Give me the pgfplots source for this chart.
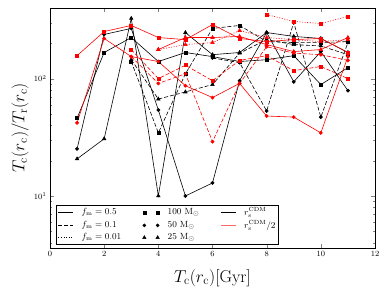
\documentclass[border=0pt]{standalone}
\usepackage{pgfplots}
\pgfplotsset{compat=1.18}
\pgfplotsset{
  fa/.style={solid, line width=0.6pt},
  fb/.style={dash pattern=on 4pt off 2pt, line width=0.6pt},
  fc/.style={dash pattern=on 1pt off 1.6pt, line width=0.6pt},
  sq/.style={mark=square*, mark size=1.5pt, mark options={solid}},
  ci/.style={mark=*, mark size=1.6pt, mark options={solid}},
  tr/.style={mark=triangle*, mark size=2pt, mark options={solid}},
  cb/.style={black},
  cr/.style={red, mark options={fill=red, solid}},
  twomarks/.style={only marks, legend image code/.code={\draw[##1] plot[only marks] coordinates {(0.05cm,0cm) (0.52cm,0cm)};}},
  shortline/.style={legend image code/.code={\draw[##1] (0cm,0cm) -- (0.52cm,0cm);}},
}
\begin{document}
\begin{tikzpicture}
\useasboundingbox (-50bp,-45bp) rectangle (340bp,248bp);
\begin{axis}[
  scale only axis, width=325bp, height=240bp,
  ymode=log, xmin=0, xmax=12, ymin=3.6, ymax=400,
  xtick={0,2,...,12},
  tick label style={font=\fontsize{8}{9}\selectfont},
  major tick length=4bp, minor tick length=2bp,
  xlabel={$T_{\mathrm{c}}(r_{\mathrm{c}})[\mathrm{Gyr}]$},
  ylabel={$T_{\mathrm{c}}(r_{\mathrm{c}})/T_{\mathrm{r}}(r_{\mathrm{c}})$},
  label style={font=\fontsize{17}{19}\selectfont},
  xlabel style={at={(axis description cs:0.5,-0.125)}, anchor=center},
  ylabel style={at={(axis description cs:-0.092,0.5)}, anchor=center},
  legend columns=3,
  legend cell align=left,
  legend style={at={(rel axis cs:0.018,0.017)}, anchor=south west,
    font=\fontsize{9}{10}\selectfont, draw=black, inner sep=2pt,
    nodes={inner sep=0.3pt},
    row sep=3pt,
    /tikz/every odd column/.append style={column sep=8bp},
    /tikz/every even column/.append style={column sep=21bp}},
]
% black solid
\addplot[cb,fa,sq,forget plot] coordinates {(1,46)(2,167)(3,224)(4,140)(5,167)(6,154)(7,140)(8,145)(9,157)(10,89)(11,124)};
\addplot[cb,fa,ci,forget plot] coordinates {(1,25.2)(2,238)(3,268)(4,54)(5,10)(6,12.9)(7,96)(8,247)(9,94)(10,170)(11,79)};
\addplot[cb,fa,tr,forget plot] coordinates {(1,20.7)(2,30.7)(3,326)(4,10)(5,247)(6,160)(7,167)(8,247)(9,229)(10,220)(11,167)};
% black dashed
\addplot[cb,fb,sq,forget plot] coordinates {(3,140)(4,34.5)(5,110)(6,268)(7,284)(8,207)(9,203)(10,203)(11,207)};
\addplot[cb,fb,tr,forget plot] coordinates {(3,145)(4,67)(5,77)(6,89)(7,165)(8,215)(9,195)(10,190)(11,160)};
\addplot[cb,fb,ci,forget plot] coordinates {(6,150)(7,137)(8,53)(9,301)(10,47)(11,203)};
% red solid
\addplot[cr,fa,sq,forget plot] coordinates {(1,157)(2,252)(3,284)(4,224)(5,215)(6,289)(7,220)(8,207)(9,215)(10,220)(11,167)};
\addplot[cr,fa,ci,forget plot] coordinates {(1,42)(2,220)(3,154)(4,140)(5,87)(6,69)(7,91)(8,48)(9,47)(10,34.5)(11,154)};
\addplot[cr,fa,tr,forget plot] coordinates {(4,177)(5,224)(6,224)(7,229)(8,195)(9,170)(10,177)(11,224)};
% red dashed
\addplot[cr,fb,sq,forget plot] coordinates {(3,177)(4,100)(5,130)(6,96)(7,143)(8,157)(9,117)(10,127)(11,100)};
\addplot[cr,fb,ci,forget plot] coordinates {(3,154)(4,91)(5,110)(6,29)(7,91)(8,187)(9,165)(10,160)(11,143)};
% red dotted
\addplot[cr,fc,sq,forget plot] coordinates {(8,352)(9,307)(10,295)(11,339)};
\addplot[cr,fc,tr,forget plot] coordinates {(4,177)(5,195)(6,203)(7,257)(8,224)(9,215)(10,207)(11,215)};
% legend
\addlegendimage{black,fa,shortline}
\addlegendentry{$f_{\mathrm{m}} = 0.5$}
\addlegendimage{black,sq,twomarks}
\addlegendentry{$100\ \mathrm{M}_\odot$}
\addlegendimage{black,fa,shortline}
\addlegendentry{$r_{\mathrm{s}}^{\mathrm{CDM}}$}
\addlegendimage{black,fb,shortline}
\addlegendentry{$f_{\mathrm{m}} = 0.1$}
\addlegendimage{black,ci,twomarks}
\addlegendentry{$50\ \mathrm{M}_\odot$}
\addlegendimage{red!60,fa,shortline}
\addlegendentry{$r_{\mathrm{s}}^{\mathrm{CDM}}/2$}
\addlegendimage{black,fc,shortline}
\addlegendentry{$f_{\mathrm{m}} = 0.01$}
\addlegendimage{black,tr,twomarks}
\addlegendentry{$25\ \mathrm{M}_\odot$}
\end{axis}
\end{tikzpicture}
\end{document}
